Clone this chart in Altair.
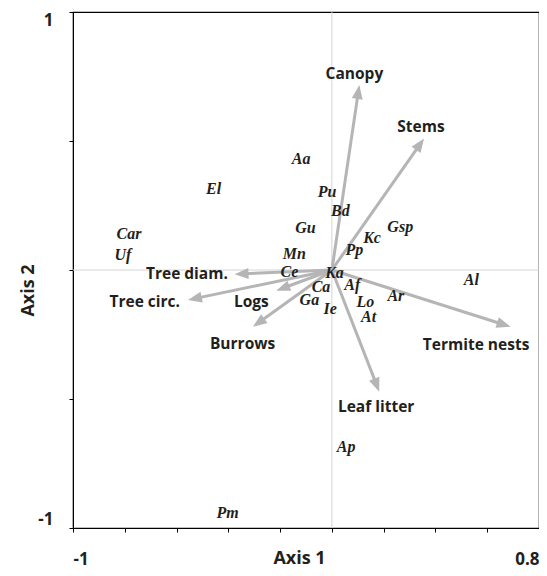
import altair as alt
import pandas as pd
import numpy as np

# Species scores (italic labels)
species = ["Aa", "El", "Pu", "Bd", "Gu", "Gsp", "Kc", "Pp", "Mn", "Ce", "Ka", "Ca",
           "Af", "Ga", "Ie", "Lo", "At", "Ar", "Al", "Car", "Uf", "Ap", "Pm"]
sp_x = [-0.119, -0.457, -0.019, 0.033, -0.102, 0.264, 0.155, 0.087, -0.145, -0.164, 0.010, -0.042,
        0.079, -0.087, -0.007, 0.129, 0.142, 0.247, 0.539, -0.784, -0.807, 0.055, -0.403]
sp_y = [0.430, 0.314, 0.303, 0.229, 0.163, 0.167, 0.125, 0.078, 0.062, -0.007, -0.012, -0.065,
        -0.058, -0.116, -0.151, -0.123, -0.183, -0.101, -0.039, 0.140, 0.058, -0.685, -0.942]

# Environmental vectors
variables = ["Canopy", "Stems", "Termite nests", "Leaf litter", "Burrows", "Logs", "Tree circ.", "Tree diam."]
tip_x = [0.106, 0.356, 0.690, 0.183, -0.305, -0.215, -0.556, -0.376]
tip_y = [0.717, 0.510, -0.220, -0.472, -0.220, -0.080, -0.116, -0.016]
lab_x = [0.087, 0.344, 0.557, 0.171, -0.345, -0.311, -0.723, -0.560]
lab_y = [0.760, 0.555, -0.291, -0.531, -0.287, -0.123, -0.123, -0.016]

x_ticks = [-1, -0.8, -0.6, -0.4, -0.2, 0, 0.2, 0.4, 0.6, 0.8]
y_ticks = [-1, -0.5, 0, 0.5, 1]

W, H = 466, 516
px_per_unit = W / 1.8

sp = pd.DataFrame({"name": species, "x": sp_x, "y": sp_y})
vec = pd.DataFrame({"name": variables, "tx": tip_x, "ty": tip_y, "lx": lab_x, "ly": lab_y})
length = np.sqrt(vec.tx ** 2 + vec.ty ** 2)
shrink = 1 - (9 / px_per_unit) / length
vec["ex"] = vec.tx * shrink
vec["ey"] = vec.ty * shrink
vec["x0"] = 0.0
vec["y0"] = 0.0
vec["ang"] = (np.degrees(np.arctan2(vec.tx, vec.ty)) + 360) % 360

sans = "Open Sans"
ink = "#231f20"
grey = "#b5b5b5"

xscale = alt.Scale(domain=[-1, 0.8], nice=False, zero=False)
yscale = alt.Scale(domain=[-1, 1], nice=False, zero=False)

xaxis = alt.Axis(values=x_ticks, grid=False, domainColor="black", tickColor="black", tickSize=4,
                 labelExpr="abs(datum.value + 1) < 0.01 ? '-1' : (abs(datum.value - 0.8) < 0.01 ? '0.8' : '')",
                 labelFlush=True, labelFont=sans, labelFontWeight="bold", labelFontSize=17,
                 labelColor=ink, labelPadding=19, title="Axis 1", titleFont=sans,
                 titleFontWeight="bold", titleFontSize=18, titleColor=ink,
                 titleX=226, titleY=21, titleBaseline="top")
yaxis = alt.Axis(values=y_ticks, grid=False, domainColor="black", tickColor="black", tickSize=4,
                 labelExpr="abs(datum.value - 1) < 0.01 ? '1' : (abs(datum.value + 1) < 0.01 ? '-1' : '')",
                 labelFlush=True, labelFont=sans, labelFontWeight="bold", labelFontSize=17,
                 labelColor=ink, labelPadding=16, title="Axis 2", titleFont=sans,
                 titleFontWeight="bold", titleFontSize=18, titleColor=ink,
                 titleX=-45, titleY=278, titleAngle=270, titleAlign="center", titleBaseline="middle")

base_pts = alt.Chart(sp).mark_point(opacity=0).encode(
    x=alt.X("x:Q", scale=xscale, axis=xaxis),
    y=alt.Y("y:Q", scale=yscale, axis=yaxis),
)

zero_v = alt.Chart(pd.DataFrame({"v": [0]})).mark_rule(color="#d4d4d4", strokeWidth=1).encode(
    x=alt.X("v:Q", scale=xscale))
zero_h = alt.Chart(pd.DataFrame({"v": [0]})).mark_rule(color="#d4d4d4", strokeWidth=1).encode(
    y=alt.Y("v:Q", scale=yscale))

arrows = alt.Chart(vec).mark_rule(color=grey, strokeWidth=3).encode(
    x=alt.X("x0:Q", scale=xscale), y=alt.Y("y0:Q", scale=yscale),
    x2="ex:Q", y2="ey:Q")

heads = alt.Chart(vec).mark_point(shape="M0,0L0.78,2L-0.78,2Z", filled=True, color=grey,
                                  opacity=1, size=196, strokeWidth=0).encode(
    x=alt.X("tx:Q", scale=xscale), y=alt.Y("ty:Q", scale=yscale),
    angle=alt.Angle("ang:Q", scale=None))

vec_labels = alt.Chart(vec).mark_text(font=sans, fontWeight="bold", fontSize=15.5, color=ink,
                                      align="center", baseline="middle").encode(
    x=alt.X("lx:Q", scale=xscale), y=alt.Y("ly:Q", scale=yscale), text="name:N")

sp_labels = alt.Chart(sp).mark_text(font="Liberation Serif", fontWeight="bold", fontStyle="italic",
                                    fontSize=16, color=ink, align="center", baseline="middle").encode(
    x=alt.X("x:Q", scale=xscale), y=alt.Y("y:Q", scale=yscale), text="name:N")

chart = alt.layer(base_pts, zero_v, zero_h, arrows, heads, vec_labels, sp_labels).properties(
    width=W, height=H,
    autosize=alt.AutoSizeParams(type="none"),
    padding={"left": 65, "top": 4, "right": 0, "bottom": 40},
).configure_view(stroke="black", strokeWidth=1.2)

chart.save("out.html", embed_options={"renderer": "svg", "actions": False})
